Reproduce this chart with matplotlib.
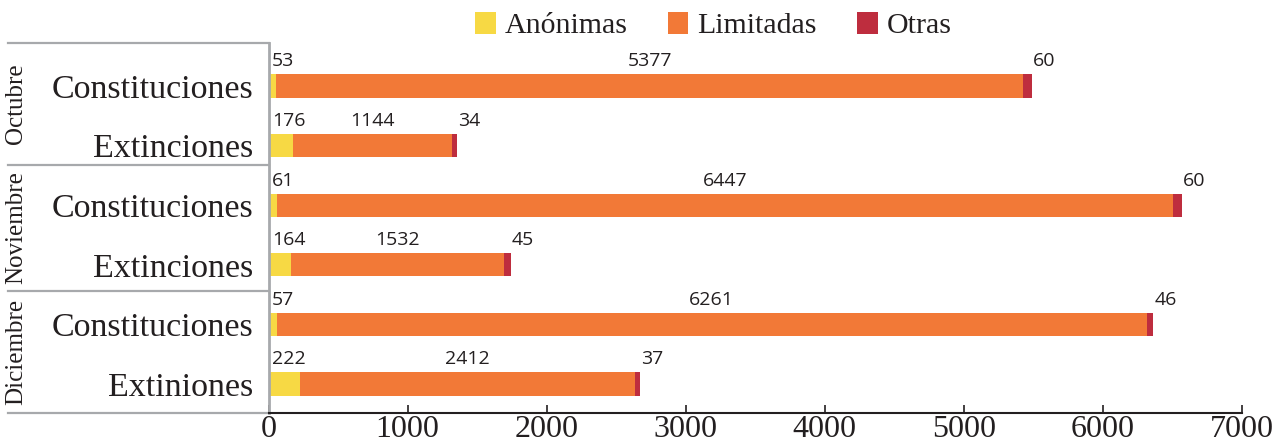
import matplotlib
matplotlib.use('Agg')
import matplotlib.pyplot as plt
import matplotlib.transforms as mtransforms
from matplotlib.patches import Patch

#data
meses = ['Octubre', 'Noviembre', 'Diciembre']
categorias = ['Constituciones', 'Extinciones', 'Constituciones', 'Extinciones', 'Constituciones', 'Extiniones']
anonimas = [53, 176, 61, 164, 57, 222]
limitadas = [5377, 1144, 6447, 1532, 6261, 2412]
otras = [60, 34, 60, 45, 46, 37]
series = ['Anónimas', 'Limitadas', 'Otras']
ticks_x = [0, 1000, 2000, 3000, 4000, 5000, 6000, 7000]

#styles
colores = ['#f7d944', '#f27937', '#be2d3e']
texto = '#231f20'
gris = '#a7a9ac'
serif = 'Liberation Serif'
sans = 'Open Sans'

fig = plt.figure(figsize=(12.83, 4.48), dpi=100)
ax = fig.add_axes([0.2094, 0.0775, 0.7584, 0.8272])

pos = list(range(len(categorias)))
alto = 0.39

#stacked bars
left2 = [a for a in anonimas]
left3 = [a + l for a, l in zip(anonimas, limitadas)]
ax.barh(pos, anonimas, height=alto, color=colores[0])
ax.barh(pos, limitadas, height=alto, left=left2, color=colores[1])
ax.barh(pos, otras, height=alto, left=left3, color=colores[2])

ax.set_xlim(0, 7000)
ax.set_ylim(5.492, -0.7265)

#value labels above each segment
for p, a, l, o in zip(pos, anonimas, limitadas, otras):
    yb = p - alto / 2 - 0.135
    ax.text(25, yb, str(a), ha='left', va='baseline', fontsize=14, family=sans, color=texto)
    ax.text(a + l / 2, yb, str(l), ha='center', va='baseline', fontsize=14, family=sans, color=texto)
    ax.text(a + l + o + 10, yb, str(o), ha='left', va='baseline', fontsize=14, family=sans, color=texto)

#axes look
ax.set_yticks(pos)
ax.set_yticklabels(categorias, fontsize=24.5, family=serif, color=texto)
ax.tick_params(axis='y', length=0, pad=11)
ax.set_xticks(ticks_x)
ax.set_xticklabels([str(t) for t in ticks_x], fontsize=23, family=serif, color=texto)
ax.tick_params(axis='x', direction='in', length=6, width=1.2, color=texto, pad=1.5)
ax.spines['top'].set_visible(False)
ax.spines['right'].set_visible(False)
ax.spines['left'].set_color(gris)
ax.spines['left'].set_linewidth(2)
ax.spines['bottom'].set_color(texto)
ax.spines['bottom'].set_linewidth(1.5)

#month brackets on the left
trans = mtransforms.blended_transform_factory(ax.transAxes, ax.transData)
cortes = [-0.7265, 1.326, 3.435, 5.492]
for c in cortes:
    ax.plot([-0.268, 0], [c, c], color=gris, lw=1.6, transform=trans, clip_on=False)
for i, mes in enumerate(meses):
    yc = (cortes[i] + cortes[i + 1]) / 2
    ax.text(-0.2592, yc, mes, rotation=90, ha='center', va='center', fontsize=18,
            family=serif, color=texto, transform=trans)

#legend
handles = [Patch(facecolor=c, edgecolor='none') for c in colores]
fig.legend(handles, series, loc='center', bbox_to_anchor=(0.556, 0.943), ncol=3, frameon=False,
           prop={'family': serif, 'size': 21.5}, labelcolor=texto, handlelength=0.69,
           handleheight=0.8, handletextpad=0.3, columnspacing=1.35, borderpad=0)

fig.savefig('out.png', dpi=100)
